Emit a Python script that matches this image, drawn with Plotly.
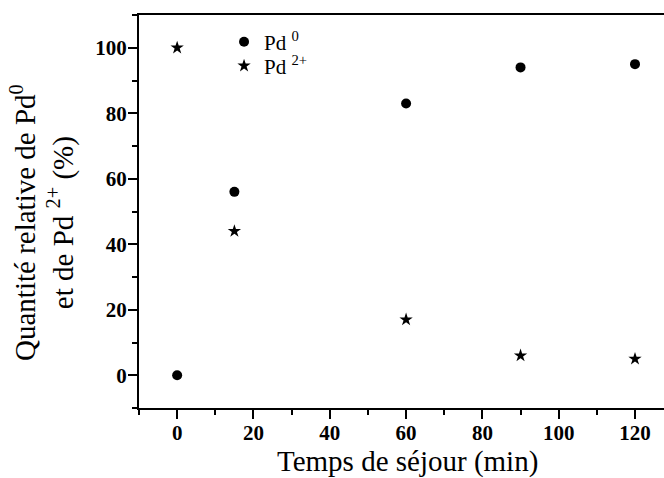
import plotly.graph_objects as go

# Données
temps = [0, 15, 60, 90, 120]
pd0 = [0, 56, 83, 94, 95]
pd2 = [100, 44, 17, 6, 5]

serif = "Liberation Serif"

fig = go.Figure()
fig.add_trace(go.Scatter(x=temps, y=pd0, mode="markers", name="Pd <sup>0</sup>", legend="legend",
                         showlegend=True, marker=dict(symbol="circle", size=10, color="black")))
fig.add_trace(go.Scatter(x=temps, y=pd2, mode="markers", name="Pd <sup>2+</sup>", legend="legend2",
                         showlegend=True, marker=dict(symbol="star", size=10, color="black")))

axis_common = dict(
    showgrid=False, zeroline=False, showline=True, linecolor="black", linewidth=2,
    ticks="outside", ticklen=9, tickwidth=2, tickcolor="black", automargin=False,
    tickfont=dict(family=serif, size=21, color="black", weight="bold"),
    minor=dict(ticks="outside", ticklen=5, tickwidth=2, tickcolor="black", dtick=10),
)

fig.update_xaxes(range=[-10, 127.6], dtick=20, mirror=True, ticklabelstandoff=-4, **axis_common)
fig.update_yaxes(range=[-10, 110], dtick=20, ticklabelstandoff=-3, **axis_common)

# titres des axes
fig.add_annotation(text="Temps de séjour (min)", xref="paper", yref="paper",
                   x=0.5105, y=-0.135, xanchor="center", yanchor="middle",
                   showarrow=False, font=dict(family=serif, size=29, color="black"))
fig.add_annotation(text="Quantité relative de Pd<sup>0</sup><br>et de Pd <sup>2+</sup> (%)",
                   xref="paper", yref="paper", x=-0.185, y=0.473,
                   xanchor="center", yanchor="middle", textangle=-90,
                   showarrow=False, font=dict(family=serif, size=29, color="black"))

leg = dict(xanchor="left", yanchor="middle", bgcolor="rgba(0,0,0,0)", itemwidth=30,
           font=dict(family=serif, size=21, color="black"))

fig.update_layout(
    width=664, height=478,
    margin=dict(l=139, r=0, t=15, b=70),
    plot_bgcolor="white", paper_bgcolor="white",
    font=dict(family=serif, color="black"),
    showlegend=True,
    legend=dict(x=0.162, y=0.931, **leg),
    legend2=dict(x=0.162, y=0.870, **leg),
)

# la page html garde sinon une marge de 8 px autour du graphique
fig.write_html("out.html", config={"displayModeBar": False},
               post_script="document.body.style.margin='0';")
